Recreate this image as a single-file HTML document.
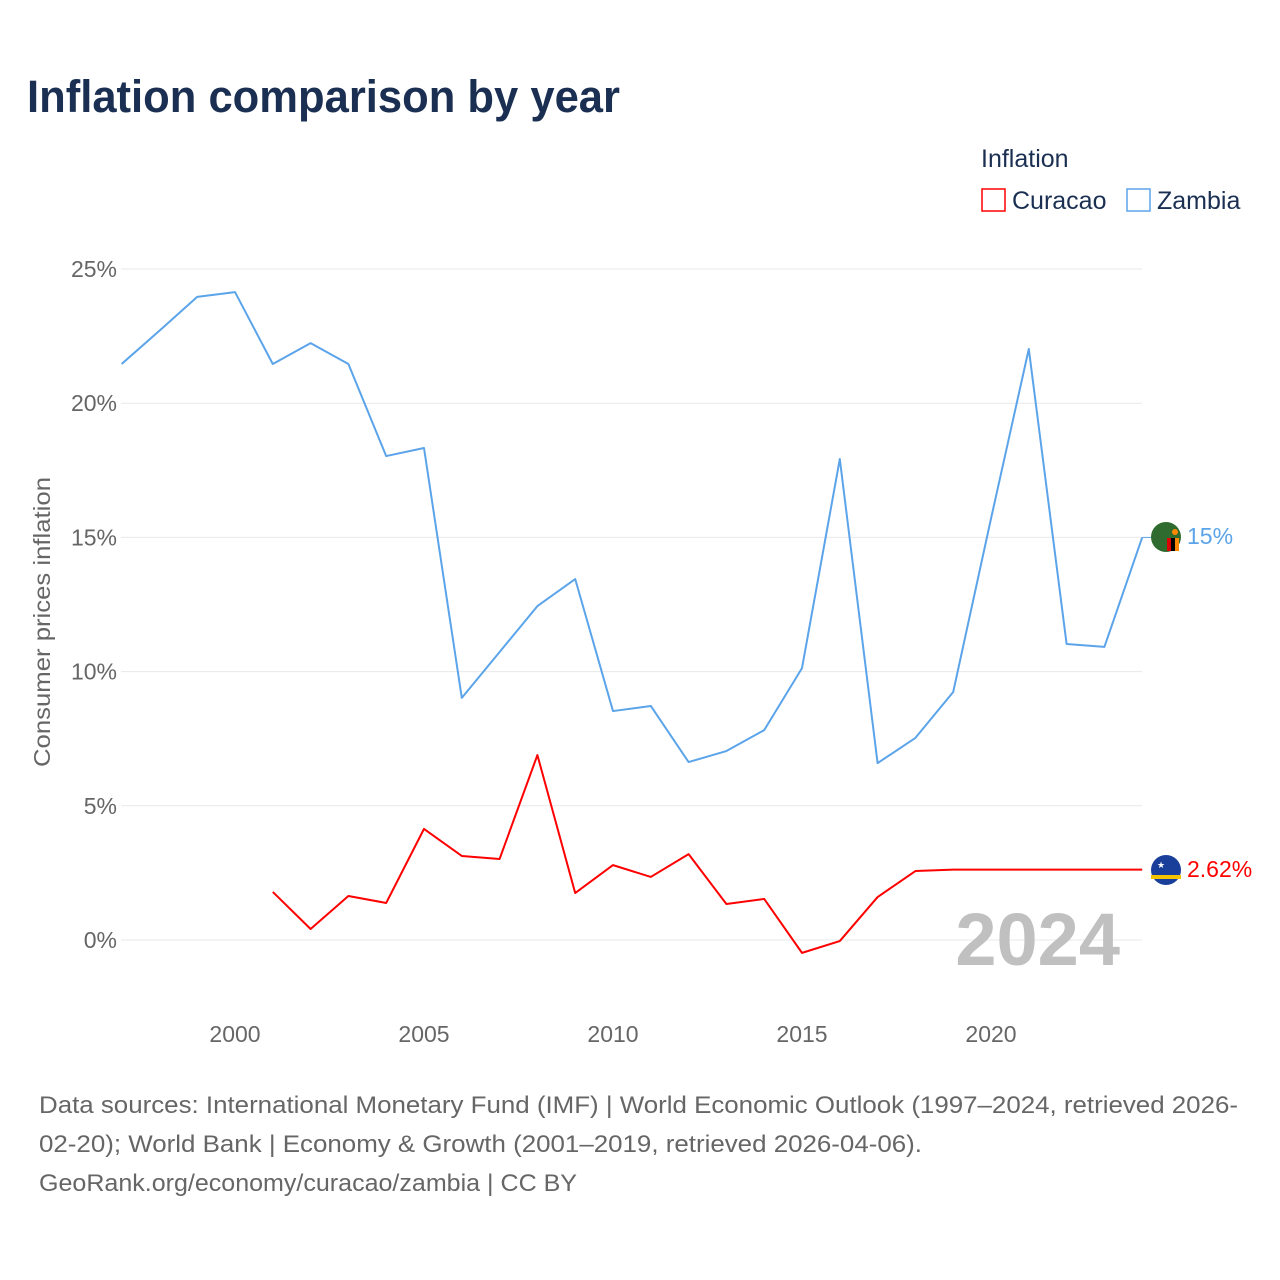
<!DOCTYPE html>
<html><head><meta charset="utf-8"><style>
body{margin:0;background:#fff;font-family:"Liberation Sans",sans-serif;}
#wrap{position:relative;width:1280px;height:1280px;overflow:hidden}
</style></head><body>
<div id="wrap">
<svg id="chart" width="1280" height="1280" xmlns="http://www.w3.org/2000/svg">
<text x="27" y="112" font-size="45" font-weight="bold" fill="#1a2f52" textLength="593" lengthAdjust="spacingAndGlyphs">Inflation comparison by year</text>
<text x="981" y="167" font-size="25" fill="#1a2f52">Inflation</text>
<g><rect x="982" y="189" width="23" height="22" fill="none" stroke="#f00" stroke-width="1.5"/><text x="1012" y="209" font-size="25" fill="#1a2f52">Curacao</text></g>
<g><rect x="1127" y="189" width="23" height="22" fill="none" stroke="#5ba4ea" stroke-width="1.5"/><text x="1157" y="209" font-size="25" fill="#1a2f52">Zambia</text></g>
<g id="grid"></g><g id="yticks"></g><g id="xticks"></g>
<text transform="translate(50,622) rotate(-90)" text-anchor="middle" font-size="23" fill="#666" textLength="290" lengthAdjust="spacingAndGlyphs">Consumer prices inflation</text>
<text x="1120" y="965" text-anchor="end" font-size="74" font-weight="bold" fill="#c0c0c0">2024</text>
<g id="series"></g>
<g><circle cx="1166" cy="537" r="15" fill="#2f6b2f"/><rect x="1167" y="538" width="4" height="13" fill="#d00"/><rect x="1171" y="538" width="4" height="13" fill="#000"/><rect x="1175" y="538" width="4" height="13" fill="#f80"/><circle cx="1175" cy="532" r="3" fill="#f80"/></g>
<text x="1187" y="544" font-size="23" fill="#5ba4ea">15%</text>
<g><circle cx="1166" cy="870" r="15" fill="#1a3f9a"/><rect x="1151" y="875" width="30" height="4" fill="#f5c400"/><text x="1157" y="868" font-size="9" fill="#fff">★</text></g>
<text x="1187" y="877" font-size="23" fill="#f00">2.62%</text>
<text font-size="24" fill="#666" lengthAdjust="spacingAndGlyphs"><tspan x="39" y="1113" textLength="1199" lengthAdjust="spacingAndGlyphs">Data sources: International Monetary Fund (IMF) | World Economic Outlook (1997–2024, retrieved 2026-</tspan><tspan x="39" y="1152" textLength="883" lengthAdjust="spacingAndGlyphs">02-20); World Bank | Economy &amp; Growth (2001–2019, retrieved 2026-04-06).</tspan><tspan x="39" y="1191" textLength="538" lengthAdjust="spacingAndGlyphs">GeoRank.org/economy/curacao/zambia | CC BY</tspan></text>
</svg></div>
<script>
const zambiaYears=[1997,1998,1999,2000,2001,2002,2003,2004,2005,2006,2007,2008,2009,2010,2011,2012,2013,2014,2015,2016,2017,2018,2019,2020,2021,2022,2023,2024];
const zambiaValues=[21.46,22.7,23.96,24.14,21.46,22.24,21.46,18.03,18.33,9.02,10.73,12.44,13.45,8.53,8.72,6.63,7.04,7.82,10.13,17.92,6.59,7.53,9.24,15.7,22.02,11.03,10.92,15.0];
const curacaoYears=[2001,2002,2003,2004,2005,2006,2007,2008,2009,2010,2011,2012,2013,2014,2015,2016,2017,2018,2019,2024];
const curacaoValues=[1.79,0.41,1.64,1.38,4.14,3.13,3.02,6.89,1.75,2.79,2.35,3.2,1.34,1.53,-0.48,-0.04,1.6,2.57,2.62,2.62];
const yTicks=[0,5,10,15,20,25];
const xTicks=[2000,2005,2010,2015,2020];
const NS="http://www.w3.org/2000/svg";
const x=y=>235+(y-2000)*37.8;
const yv=v=>940-v*26.84;
function mk(t,a,p){const e=document.createElementNS(NS,t);for(const k in a)e.setAttribute(k,a[k]);p.appendChild(e);return e;}
const grid=document.getElementById('grid'),yt=document.getElementById('yticks'),xt=document.getElementById('xticks'),se=document.getElementById('series');
yTicks.forEach(v=>{
 const l=mk('line',{x1:121,x2:1142,y1:yv(v),y2:yv(v),stroke:'#e8e8e8','stroke-width':1},grid);
 
 
 const t=mk('text',{x:117,y:yv(v)+8,'text-anchor':'end','font-size':23,fill:'#666'},yt);
 t.textContent=v+'%';
 
 
});
xTicks.forEach(v=>{
 const t=mk('text',{x:x(v),y:1042,'text-anchor':'middle','font-size':23,fill:'#666'},xt);
 t.textContent=v;
 
 
});
function line(ys,vs,col,name){
 const p=mk('polyline',{points:ys.map((y,i)=>x(y)+','+yv(vs[i])).join(' '),fill:'none',stroke:col,'stroke-width':2,'stroke-linejoin':'round'},se);
 
 
}
line(zambiaYears,zambiaValues,'#5ba4ea','zambia-line');
line(curacaoYears,curacaoValues,'#f00','curacao-line');
const c1=mk('line',{x1:x(2024),x2:1152,y1:yv(zambiaValues[zambiaValues.length-1]),y2:yv(zambiaValues[zambiaValues.length-1]),stroke:'#5ba4ea','stroke-width':1},se);


</script>
</body></html>
